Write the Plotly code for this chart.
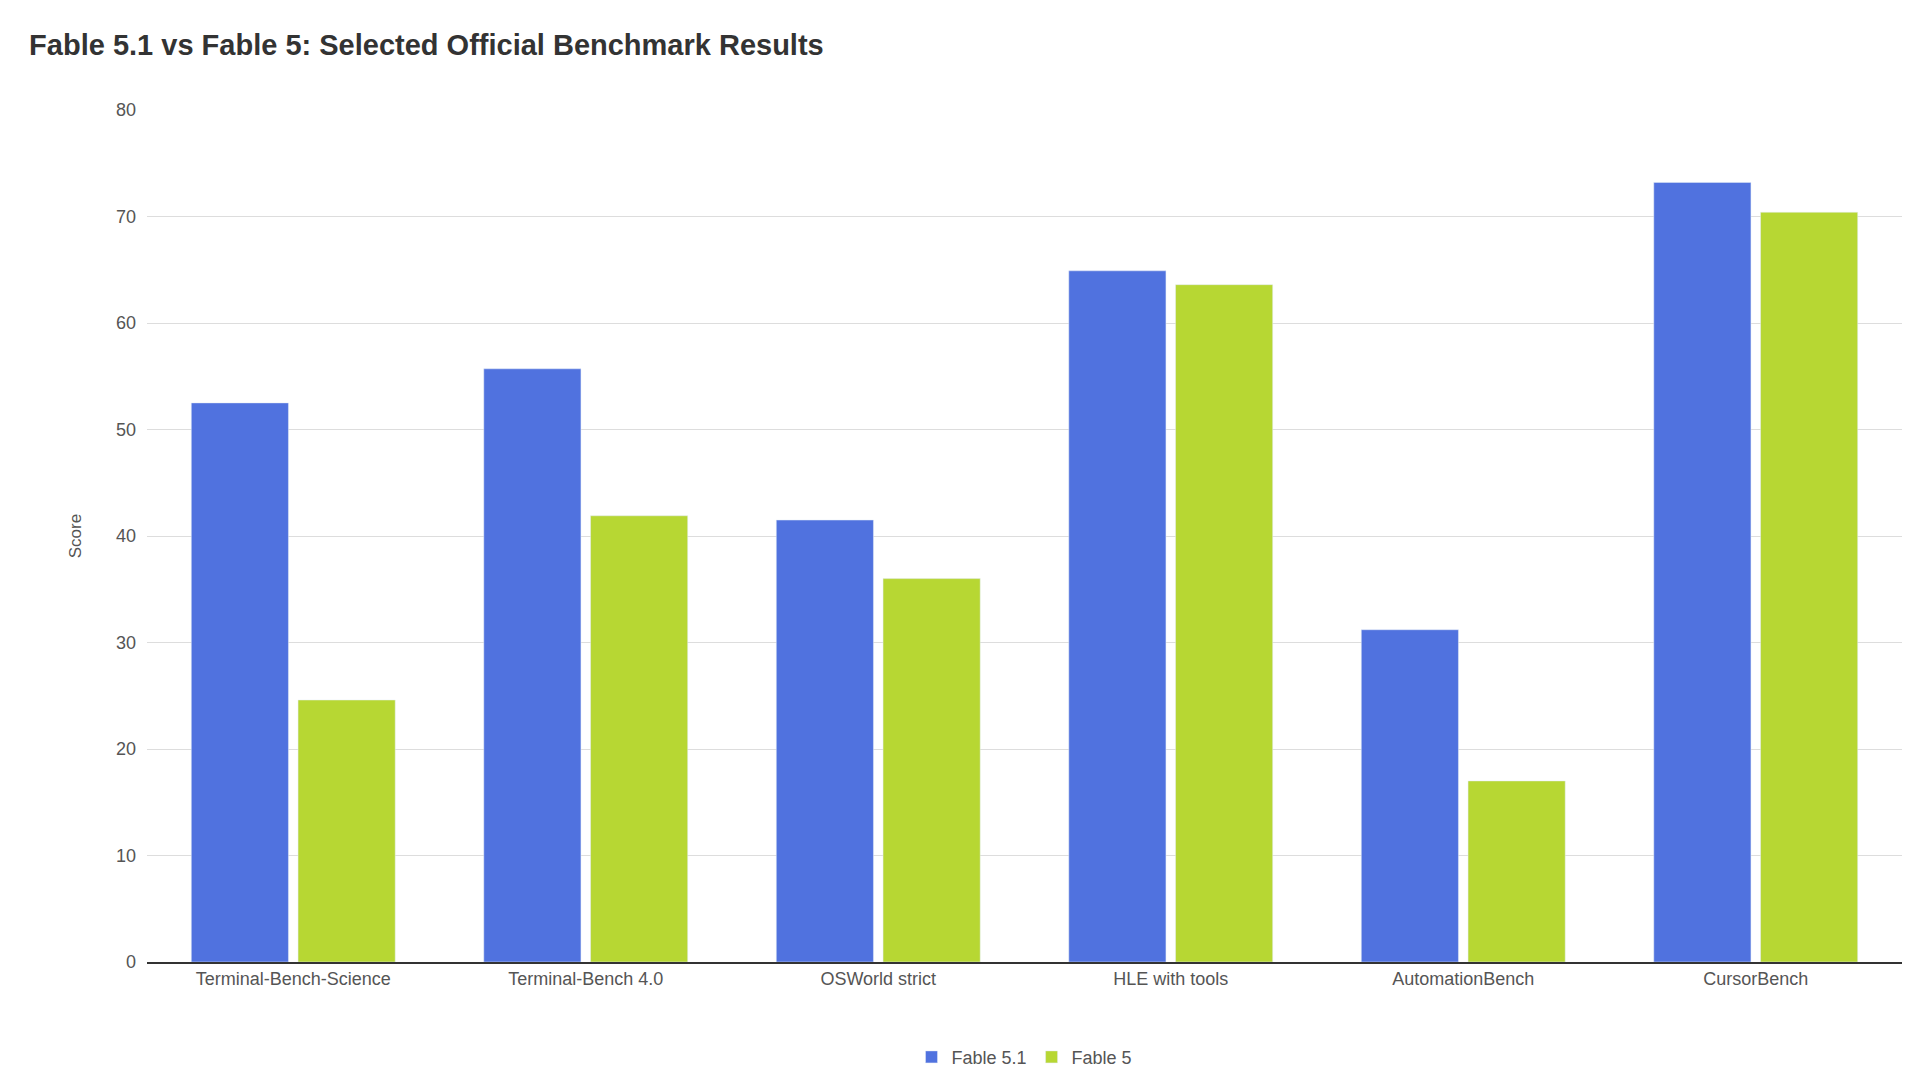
import plotly.graph_objects as go

categories = ["Terminal-Bench-Science", "Terminal-Bench 4.0", "OSWorld strict",
              "HLE with tools", "AutomationBench", "CursorBench"]
fable51 = [52.5, 55.7, 41.5, 64.9, 31.2, 73.2]
fable5 = [24.6, 41.9, 36.0, 63.6, 17.0, 70.4]

fig = go.Figure()
fig.add_bar(name="Fable 5.1", x=categories, y=fable51, marker_color="#5072DF")
fig.add_bar(name="Fable 5", x=categories, y=fable5, marker_color="#B7D733")

font = "Liberation Sans, Arial, sans-serif"
fig.update_layout(
    width=1920, height=1080,
    paper_bgcolor="white", plot_bgcolor="white",
    font=dict(family=font, color="#555", size=18),
    title=dict(text="<b>Fable 5.1 vs Fable 5: Selected Official Benchmark Results</b>",
               x=0.011, xanchor="left", y=0.975, yanchor="top",
               font=dict(size=29, color="#333", family=font)),
    margin=dict(l=139, r=26, t=102, b=120),
    barmode="group", bargap=0.27, bargroupgap=0.09,
    legend=dict(orientation="h", x=0.5, xanchor="center", y=-0.09, yanchor="top",
                font=dict(size=18, color="#555")),
    xaxis=dict(showline=True, linecolor="#333", linewidth=1.5, ticks="",
               tickfont=dict(size=18, color="#555")),
    yaxis=dict(range=[0, 80], dtick=10, gridcolor="#dddddd", zeroline=False,
               title=dict(text="Score", font=dict(size=17, color="#555"), standoff=30),
               tickfont=dict(size=18, color="#555"), ticklabelstandoff=10),
)
fig.write_html("out.html")
